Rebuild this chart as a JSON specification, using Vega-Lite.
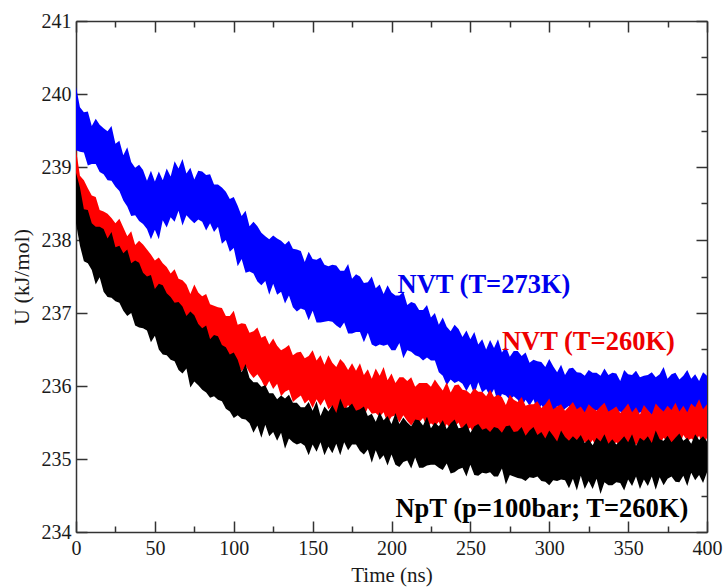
{
  "$schema": "https://vega.github.io/schema/vega-lite/v6.json",
  "width": 631,
  "height": 511,
  "autosize": "none",
  "padding": {"left": 76, "top": 21, "right": 17, "bottom": 55},
  "background": "white",
  "config": {
    "view": {"stroke": null},
    "font": "Liberation Serif",
    "axis": {
      "grid": false,
      "domainColor": "#333333",
      "domainWidth": 1.5,
      "tickColor": "#333333",
      "tickWidth": 1.5,
      "labelFont": "Liberation Serif",
      "labelFontSize": 20,
      "labelColor": "#1a1a1a",
      "labelFlush": false,
      "labelOverlap": false
    }
  },
  "data": {
    "values": [
      {"t":0,"bh":240.10,"bl":239.23,"rh":239.24,"rl":238.49,"kh":238.92,"kl":238.23},
      {"t":2.5,"bh":239.82,"bl":239.21,"rh":238.88,"rl":238.38,"kh":238.72,"kl":237.92},
      {"t":5,"bh":239.75,"bl":239.20,"rh":238.82,"rl":238.14,"kh":238.42,"kl":237.71},
      {"t":7.5,"bh":239.76,"bl":239.02,"rh":238.71,"rl":238.20,"kh":238.41,"kl":237.68},
      {"t":10,"bh":239.56,"bl":239.04,"rh":238.61,"rl":238.01,"kh":238.23,"kl":237.59},
      {"t":12.5,"bh":239.66,"bl":239.04,"rh":238.59,"rl":237.92,"kh":238.18,"kl":237.39},
      {"t":15,"bh":239.58,"bl":238.93,"rh":238.41,"rl":237.94,"kh":238.18,"kl":237.49},
      {"t":17.5,"bh":239.53,"bl":238.90,"rh":238.39,"rl":237.88,"kh":238.15,"kl":237.29},
      {"t":20,"bh":239.49,"bl":238.82,"rh":238.36,"rl":237.88,"kh":238.02,"kl":237.22},
      {"t":22.5,"bh":239.56,"bl":238.81,"rh":238.30,"rl":237.73,"kh":238.11,"kl":237.21},
      {"t":25,"bh":239.32,"bl":238.73,"rh":238.23,"rl":237.72,"kh":237.90,"kl":237.16},
      {"t":27.5,"bh":239.36,"bl":238.67,"rh":238.29,"rl":237.65,"kh":237.92,"kl":237.14},
      {"t":30,"bh":239.16,"bl":238.54,"rh":238.17,"rl":237.63,"kh":237.82,"kl":237.03},
      {"t":32.5,"bh":239.27,"bl":238.46,"rh":238.05,"rl":237.47,"kh":237.87,"kl":236.96},
      {"t":35,"bh":239.07,"bl":238.33,"rh":238.12,"rl":237.50,"kh":237.68,"kl":237.00},
      {"t":37.5,"bh":238.99,"bl":238.34,"rh":237.93,"rl":237.41,"kh":237.72,"kl":236.83},
      {"t":40,"bh":239.03,"bl":238.26,"rh":237.99,"rl":237.37,"kh":237.69,"kl":236.80},
      {"t":42.5,"bh":238.96,"bl":238.22,"rh":237.94,"rl":237.41,"kh":237.55,"kl":236.79},
      {"t":45,"bh":238.81,"bl":238.15,"rh":237.87,"rl":237.20,"kh":237.50,"kl":236.76},
      {"t":47.5,"bh":238.95,"bl":238.01,"rh":237.80,"rl":237.19,"kh":237.52,"kl":236.60},
      {"t":50,"bh":238.80,"bl":238.14,"rh":237.72,"rl":237.16,"kh":237.33,"kl":236.69},
      {"t":52.5,"bh":238.94,"bl":238.01,"rh":237.76,"rl":237.04,"kh":237.40,"kl":236.50},
      {"t":55,"bh":238.82,"bl":238.27,"rh":237.68,"rl":237.08,"kh":237.38,"kl":236.43},
      {"t":57.5,"bh":238.98,"bl":238.17,"rh":237.63,"rl":237.00,"kh":237.27,"kl":236.42},
      {"t":60,"bh":238.87,"bl":238.31,"rh":237.54,"rl":236.94,"kh":237.22,"kl":236.36},
      {"t":62.5,"bh":239.08,"bl":238.25,"rh":237.60,"rl":236.86,"kh":237.14,"kl":236.34},
      {"t":65,"bh":238.98,"bl":238.40,"rh":237.47,"rl":236.89,"kh":237.15,"kl":236.22},
      {"t":67.5,"bh":239.11,"bl":238.20,"rh":237.45,"rl":236.81,"kh":237.09,"kl":236.17},
      {"t":70,"bh":238.91,"bl":238.34,"rh":237.39,"rl":236.67,"kh":236.96,"kl":236.24},
      {"t":72.5,"bh":238.99,"bl":238.28,"rh":237.26,"rl":236.79,"kh":237.02,"kl":235.98},
      {"t":75,"bh":238.83,"bl":238.23,"rh":237.39,"rl":236.69,"kh":236.97,"kl":236.06},
      {"t":77.5,"bh":238.95,"bl":238.28,"rh":237.28,"rl":236.64,"kh":236.85,"kl":236.01},
      {"t":80,"bh":238.94,"bl":238.25,"rh":237.23,"rl":236.69,"kh":236.79,"kl":235.95},
      {"t":82.5,"bh":238.89,"bl":238.13,"rh":237.26,"rl":236.60,"kh":236.83,"kl":235.91},
      {"t":85,"bh":238.90,"bl":238.23,"rh":237.12,"rl":236.48,"kh":236.64,"kl":235.84},
      {"t":87.5,"bh":238.76,"bl":238.11,"rh":237.10,"rl":236.56,"kh":236.70,"kl":235.86},
      {"t":90,"bh":238.76,"bl":238.18,"rh":237.08,"rl":236.46,"kh":236.68,"kl":235.81},
      {"t":92.5,"bh":238.72,"bl":237.95,"rh":237.07,"rl":236.52,"kh":236.56,"kl":235.79},
      {"t":95,"bh":238.66,"bl":238.00,"rh":236.96,"rl":236.37,"kh":236.53,"kl":235.69},
      {"t":97.5,"bh":238.56,"bl":237.84,"rh":236.96,"rl":236.40,"kh":236.43,"kl":235.65},
      {"t":100,"bh":238.59,"bl":237.89,"rh":237.03,"rl":236.39,"kh":236.46,"kl":235.56},
      {"t":102.5,"bh":238.47,"bl":237.64,"rh":236.84,"rl":236.30,"kh":236.36,"kl":235.60},
      {"t":105,"bh":238.33,"bl":237.74,"rh":236.86,"rl":236.20,"kh":236.19,"kl":235.55},
      {"t":107.5,"bh":238.40,"bl":237.55,"rh":236.85,"rl":236.28,"kh":236.30,"kl":235.54},
      {"t":110,"bh":238.19,"bl":237.57,"rh":236.73,"rl":236.18,"kh":236.11,"kl":235.49},
      {"t":112.5,"bh":238.25,"bl":237.54,"rh":236.75,"rl":236.11,"kh":236.05,"kl":235.36},
      {"t":115,"bh":238.19,"bl":237.43,"rh":236.80,"rl":236.16,"kh":236.05,"kl":235.46},
      {"t":117.5,"bh":238.10,"bl":237.38,"rh":236.66,"rl":236.08,"kh":235.99,"kl":235.29},
      {"t":120,"bh":238.05,"bl":237.44,"rh":236.69,"rl":235.97,"kh":236.01,"kl":235.47},
      {"t":122.5,"bh":238.01,"bl":237.25,"rh":236.57,"rl":236.07,"kh":235.90,"kl":235.31},
      {"t":125,"bh":238.06,"bl":237.40,"rh":236.65,"rl":235.96,"kh":235.90,"kl":235.37},
      {"t":127.5,"bh":238.02,"bl":237.25,"rh":236.55,"rl":236.03,"kh":235.82,"kl":235.25},
      {"t":130,"bh":237.99,"bl":237.29,"rh":236.49,"rl":235.86,"kh":235.87,"kl":235.36},
      {"t":132.5,"bh":237.94,"bl":237.13,"rh":236.52,"rl":235.92,"kh":235.83,"kl":235.14},
      {"t":135,"bh":237.99,"bl":237.24,"rh":236.56,"rl":235.95,"kh":235.88,"kl":235.28},
      {"t":137.5,"bh":237.88,"bl":237.08,"rh":236.42,"rl":235.78,"kh":235.77,"kl":235.23},
      {"t":140,"bh":237.87,"bl":237.02,"rh":236.46,"rl":235.83,"kh":235.77,"kl":235.20},
      {"t":142.5,"bh":237.85,"bl":237.06,"rh":236.47,"rl":235.87,"kh":235.71,"kl":235.22},
      {"t":145,"bh":237.70,"bl":237.04,"rh":236.38,"rl":235.76,"kh":235.71,"kl":235.18},
      {"t":147.5,"bh":237.84,"bl":236.90,"rh":236.41,"rl":235.81,"kh":235.78,"kl":235.05},
      {"t":150,"bh":237.74,"bl":237.03,"rh":236.49,"rl":235.70,"kh":235.66,"kl":235.20},
      {"t":152.5,"bh":237.73,"bl":236.87,"rh":236.35,"rl":235.82,"kh":235.79,"kl":235.10},
      {"t":155,"bh":237.76,"bl":236.87,"rh":236.42,"rl":235.73,"kh":235.59,"kl":235.23},
      {"t":157.5,"bh":237.66,"bl":236.88,"rh":236.29,"rl":235.82,"kh":235.72,"kl":235.05},
      {"t":160,"bh":237.64,"bl":236.89,"rh":236.42,"rl":235.68,"kh":235.65,"kl":235.17},
      {"t":162.5,"bh":237.66,"bl":236.88,"rh":236.32,"rl":235.73,"kh":235.74,"kl":235.08},
      {"t":165,"bh":237.65,"bl":236.83,"rh":236.26,"rl":235.60,"kh":235.63,"kl":235.21},
      {"t":167.5,"bh":237.58,"bl":236.79,"rh":236.37,"rl":235.74,"kh":235.83,"kl":235.05},
      {"t":170,"bh":237.58,"bl":236.87,"rh":236.31,"rl":235.65,"kh":235.70,"kl":235.23},
      {"t":172.5,"bh":237.67,"bl":236.72,"rh":236.22,"rl":235.74,"kh":235.71,"kl":235.12},
      {"t":175,"bh":237.47,"bl":236.72,"rh":236.31,"rl":235.65,"kh":235.76,"kl":235.20},
      {"t":177.5,"bh":237.53,"bl":236.74,"rh":236.21,"rl":235.61,"kh":235.66,"kl":235.20},
      {"t":180,"bh":237.50,"bl":236.74,"rh":236.31,"rl":235.67,"kh":235.68,"kl":235.11},
      {"t":182.5,"bh":237.41,"bl":236.60,"rh":236.15,"rl":235.58,"kh":235.72,"kl":235.06},
      {"t":185,"bh":237.42,"bl":236.73,"rh":236.23,"rl":235.70,"kh":235.59,"kl":235.13},
      {"t":187.5,"bh":237.50,"bl":236.57,"rh":236.10,"rl":235.62,"kh":235.62,"kl":234.95},
      {"t":190,"bh":237.34,"bl":236.54,"rh":236.24,"rl":235.63,"kh":235.51,"kl":235.12},
      {"t":192.5,"bh":237.39,"bl":236.57,"rh":236.14,"rl":235.58,"kh":235.64,"kl":234.99},
      {"t":195,"bh":237.26,"bl":236.55,"rh":236.26,"rl":235.64,"kh":235.53,"kl":235.05},
      {"t":197.5,"bh":237.38,"bl":236.57,"rh":236.08,"rl":235.49,"kh":235.59,"kl":234.91},
      {"t":200,"bh":237.28,"bl":236.49,"rh":236.17,"rl":235.58,"kh":235.48,"kl":235.06},
      {"t":202.5,"bh":237.24,"bl":236.49,"rh":236.04,"rl":235.60,"kh":235.63,"kl":234.92},
      {"t":205,"bh":237.24,"bl":236.59,"rh":236.12,"rl":235.50,"kh":235.48,"kl":234.89},
      {"t":207.5,"bh":237.29,"bl":236.38,"rh":236.12,"rl":235.60,"kh":235.57,"kl":234.96},
      {"t":210,"bh":237.11,"bl":236.49,"rh":236.07,"rl":235.52,"kh":235.50,"kl":234.98},
      {"t":212.5,"bh":237.15,"bl":236.47,"rh":236.12,"rl":235.46,"kh":235.45,"kl":234.87},
      {"t":215,"bh":237.13,"bl":236.42,"rh":235.99,"rl":235.53,"kh":235.54,"kl":235.02},
      {"t":217.5,"bh":237.04,"bl":236.40,"rh":236.04,"rl":235.50,"kh":235.53,"kl":234.88},
      {"t":220,"bh":237.04,"bl":236.35,"rh":236.04,"rl":235.56,"kh":235.46,"kl":234.88},
      {"t":222.5,"bh":237.11,"bl":236.39,"rh":236.04,"rl":235.43,"kh":235.58,"kl":234.91},
      {"t":225,"bh":236.94,"bl":236.35,"rh":235.99,"rl":235.49,"kh":235.42,"kl":234.92},
      {"t":227.5,"bh":237.00,"bl":236.35,"rh":236.09,"rl":235.45,"kh":235.50,"kl":234.92},
      {"t":230,"bh":236.84,"bl":236.19,"rh":236.01,"rl":235.51,"kh":235.45,"kl":234.88},
      {"t":232.5,"bh":236.94,"bl":236.14,"rh":235.94,"rl":235.37,"kh":235.53,"kl":234.85},
      {"t":235,"bh":236.81,"bl":236.01,"rh":236.05,"rl":235.48,"kh":235.41,"kl":234.94},
      {"t":237.5,"bh":236.75,"bl":236.09,"rh":235.91,"rl":235.41,"kh":235.49,"kl":234.80},
      {"t":240,"bh":236.84,"bl":236.04,"rh":236.01,"rl":235.44,"kh":235.54,"kl":234.82},
      {"t":242.5,"bh":236.78,"bl":236.07,"rh":236.02,"rl":235.50,"kh":235.42,"kl":234.86},
      {"t":245,"bh":236.67,"bl":236.03,"rh":235.95,"rl":235.37,"kh":235.43,"kl":234.88},
      {"t":247.5,"bh":236.76,"bl":235.93,"rh":235.94,"rl":235.39,"kh":235.49,"kl":234.76},
      {"t":250,"bh":236.64,"bl":236.03,"rh":235.89,"rl":235.43,"kh":235.36,"kl":234.92},
      {"t":252.5,"bh":236.74,"bl":235.88,"rh":235.97,"rl":235.32,"kh":235.45,"kl":234.78},
      {"t":255,"bh":236.57,"bl":236.05,"rh":235.92,"rl":235.44,"kh":235.48,"kl":234.77},
      {"t":257.5,"bh":236.64,"bl":235.91,"rh":235.92,"rl":235.37,"kh":235.40,"kl":234.81},
      {"t":260,"bh":236.50,"bl":235.96,"rh":235.86,"rl":235.38,"kh":235.42,"kl":234.80},
      {"t":262.5,"bh":236.63,"bl":235.86,"rh":235.95,"rl":235.30,"kh":235.37,"kl":234.82},
      {"t":265,"bh":236.52,"bl":235.96,"rh":235.85,"rl":235.39,"kh":235.44,"kl":234.76},
      {"t":267.5,"bh":236.64,"bl":235.76,"rh":235.88,"rl":235.31,"kh":235.42,"kl":234.76},
      {"t":270,"bh":236.46,"bl":235.89,"rh":235.85,"rl":235.23,"kh":235.36,"kl":234.87},
      {"t":272.5,"bh":236.54,"bl":235.87,"rh":235.74,"rl":235.35,"kh":235.45,"kl":234.65},
      {"t":275,"bh":236.40,"bl":235.81,"rh":235.88,"rl":235.31,"kh":235.46,"kl":234.78},
      {"t":277.5,"bh":236.48,"bl":235.86,"rh":235.81,"rl":235.25,"kh":235.37,"kl":234.76},
      {"t":280,"bh":236.48,"bl":235.81,"rh":235.78,"rl":235.36,"kh":235.38,"kl":234.74},
      {"t":282.5,"bh":236.41,"bl":235.71,"rh":235.85,"rl":235.27,"kh":235.44,"kl":234.73},
      {"t":285,"bh":236.46,"bl":235.81,"rh":235.73,"rl":235.22,"kh":235.32,"kl":234.70},
      {"t":287.5,"bh":236.32,"bl":235.73,"rh":235.75,"rl":235.30,"kh":235.39,"kl":234.75},
      {"t":290,"bh":236.36,"bl":235.82,"rh":235.75,"rl":235.26,"kh":235.44,"kl":234.74},
      {"t":292.5,"bh":236.34,"bl":235.65,"rh":235.79,"rl":235.32,"kh":235.33,"kl":234.76},
      {"t":295,"bh":236.33,"bl":235.74,"rh":235.70,"rl":235.22,"kh":235.37,"kl":234.70},
      {"t":297.5,"bh":236.26,"bl":235.66,"rh":235.75,"rl":235.25,"kh":235.28,"kl":234.69},
      {"t":300,"bh":236.37,"bl":235.75,"rh":235.83,"rl":235.29,"kh":235.39,"kl":234.64},
      {"t":302.5,"bh":236.27,"bl":235.59,"rh":235.68,"rl":235.21,"kh":235.32,"kl":234.71},
      {"t":305,"bh":236.19,"bl":235.73,"rh":235.72,"rl":235.17,"kh":235.24,"kl":234.70},
      {"t":307.5,"bh":236.29,"bl":235.63,"rh":235.75,"rl":235.27,"kh":235.39,"kl":234.72},
      {"t":310,"bh":236.15,"bl":235.69,"rh":235.66,"rl":235.25,"kh":235.30,"kl":234.71},
      {"t":312.5,"bh":236.24,"bl":235.73,"rh":235.72,"rl":235.18,"kh":235.25,"kl":234.60},
      {"t":315,"bh":236.25,"bl":235.63,"rh":235.78,"rl":235.29,"kh":235.31,"kl":234.73},
      {"t":317.5,"bh":236.19,"bl":235.63,"rh":235.68,"rl":235.20,"kh":235.26,"kl":234.57},
      {"t":320,"bh":236.18,"bl":235.69,"rh":235.72,"rl":235.14,"kh":235.33,"kl":234.77},
      {"t":322.5,"bh":236.14,"bl":235.56,"rh":235.64,"rl":235.24,"kh":235.22,"kl":234.59},
      {"t":325,"bh":236.22,"bl":235.71,"rh":235.75,"rl":235.18,"kh":235.27,"kl":234.70},
      {"t":327.5,"bh":236.18,"bl":235.63,"rh":235.70,"rl":235.26,"kh":235.19,"kl":234.59},
      {"t":330,"bh":236.18,"bl":235.67,"rh":235.66,"rl":235.15,"kh":235.29,"kl":234.73},
      {"t":332.5,"bh":236.14,"bl":235.57,"rh":235.72,"rl":235.20,"kh":235.24,"kl":234.52},
      {"t":335,"bh":236.24,"bl":235.70,"rh":235.77,"rl":235.27,"kh":235.34,"kl":234.68},
      {"t":337.5,"bh":236.15,"bl":235.60,"rh":235.65,"rl":235.11,"kh":235.21,"kl":234.64},
      {"t":340,"bh":236.18,"bl":235.55,"rh":235.68,"rl":235.19,"kh":235.27,"kl":234.64},
      {"t":342.5,"bh":236.17,"bl":235.65,"rh":235.72,"rl":235.23,"kh":235.20,"kl":234.68},
      {"t":345,"bh":236.07,"bl":235.65,"rh":235.63,"rl":235.16,"kh":235.25,"kl":234.67},
      {"t":347.5,"bh":236.22,"bl":235.57,"rh":235.69,"rl":235.21,"kh":235.31,"kl":234.57},
      {"t":350,"bh":236.16,"bl":235.71,"rh":235.76,"rl":235.14,"kh":235.23,"kl":234.72},
      {"t":352.5,"bh":236.15,"bl":235.60,"rh":235.64,"rl":235.25,"kh":235.34,"kl":234.63},
      {"t":355,"bh":236.21,"bl":235.57,"rh":235.71,"rl":235.19,"kh":235.18,"kl":234.76},
      {"t":357.5,"bh":236.12,"bl":235.64,"rh":235.61,"rl":235.27,"kh":235.29,"kl":234.59},
      {"t":360,"bh":236.14,"bl":235.63,"rh":235.74,"rl":235.16,"kh":235.25,"kl":234.72},
      {"t":362.5,"bh":236.15,"bl":235.66,"rh":235.67,"rl":235.22,"kh":235.31,"kl":234.63},
      {"t":365,"bh":236.19,"bl":235.60,"rh":235.61,"rl":235.12,"kh":235.22,"kl":234.76},
      {"t":367.5,"bh":236.12,"bl":235.60,"rh":235.76,"rl":235.26,"kh":235.39,"kl":234.58},
      {"t":370,"bh":236.16,"bl":235.68,"rh":235.70,"rl":235.20,"kh":235.27,"kl":234.75},
      {"t":372.5,"bh":236.26,"bl":235.57,"rh":235.65,"rl":235.29,"kh":235.25,"kl":234.64},
      {"t":375,"bh":236.10,"bl":235.57,"rh":235.73,"rl":235.23,"kh":235.32,"kl":234.73},
      {"t":377.5,"bh":236.16,"bl":235.64,"rh":235.67,"rl":235.19,"kh":235.23,"kl":234.76},
      {"t":380,"bh":236.18,"bl":235.64,"rh":235.77,"rl":235.27,"kh":235.29,"kl":234.69},
      {"t":382.5,"bh":236.09,"bl":235.56,"rh":235.65,"rl":235.18,"kh":235.35,"kl":234.68},
      {"t":385,"bh":236.14,"bl":235.69,"rh":235.73,"rl":235.33,"kh":235.25,"kl":234.77},
      {"t":387.5,"bh":236.22,"bl":235.58,"rh":235.64,"rl":235.25,"kh":235.29,"kl":234.63},
      {"t":390,"bh":236.10,"bl":235.55,"rh":235.76,"rl":235.28,"kh":235.21,"kl":234.81},
      {"t":392.5,"bh":236.16,"bl":235.62,"rh":235.71,"rl":235.24,"kh":235.34,"kl":234.71},
      {"t":395,"bh":236.07,"bl":235.60,"rh":235.82,"rl":235.32,"kh":235.26,"kl":234.78},
      {"t":397.5,"bh":236.19,"bl":235.66,"rh":235.68,"rl":235.18,"kh":235.31,"kl":234.67},
      {"t":400,"bh":236.14,"bl":235.56,"rh":235.75,"rl":235.29,"kh":235.24,"kl":234.82}
    ]
  },
  "layer": [
    {
      "mark": {"type": "area", "color": "#0000ff", "opacity": 1},
      "encoding": {
        "x": {
          "field": "t", "type": "quantitative",
          "scale": {"domain": [0, 400], "nice": false},
          "axis": {
            "orient": "bottom",
            "values": [0,25,50,75,100,125,150,175,200,225,250,275,300,325,350,375,400],
            "tickSize": {"condition": {"test": "datum.value % 50 === 0", "value": -11}, "value": -6},
            "format": "d",
            "labelExpr": "datum.value % 50 === 0 ? datum.label : ''",
            "labelPadding": 17.5,
            "title": "Time (ns)",
            "titleFont": "Liberation Serif",
            "titleFontSize": 21,
            "titleFontWeight": "normal",
            "titleColor": "#1a1a1a",
            "titlePadding": 1
          }
        },
        "y": {
          "field": "bl", "type": "quantitative",
          "scale": {"domain": [234, 241], "nice": false, "zero": false},
          "axis": {
            "orient": "left",
            "values": [234,234.5,235,235.5,236,236.5,237,237.5,238,238.5,239,239.5,240,240.5,241],
            "tickSize": {"condition": {"test": "datum.value % 1 === 0", "value": -11}, "value": -6},
            "format": "d",
            "labelExpr": "datum.value % 1 === 0 ? datum.label : ''",
            "labelPadding": 16,
            "title": "U (kJ/mol)",
            "titleFont": "Liberation Serif",
            "titleFontSize": 22,
            "titleFontWeight": "normal",
            "titleColor": "#1a1a1a",
            "titlePadding": 8
          }
        },
        "y2": {"field": "bh"}
      }
    },
    {
      "mark": {"type": "area", "color": "#ff0000", "opacity": 1},
      "encoding": {
        "x": {
          "field": "t", "type": "quantitative",
          "axis": {
            "orient": "top",
            "values": [0,25,50,75,100,125,150,175,200,225,250,275,300,325,350,375,400],
            "tickSize": {"condition": {"test": "datum.value % 50 === 0", "value": -11}, "value": -6},
            "labels": false,
            "title": null
          }
        },
        "y": {
          "field": "rl", "type": "quantitative",
          "axis": {
            "orient": "right",
            "values": [234,234.5,235,235.5,236,236.5,237,237.5,238,238.5,239,239.5,240,240.5,241],
            "tickSize": {"condition": {"test": "datum.value % 1 === 0", "value": -11}, "value": -6},
            "labels": false,
            "title": null
          }
        },
        "y2": {"field": "rh"}
      }
    },
    {
      "mark": {"type": "area", "color": "#000000", "opacity": 1},
      "encoding": {
        "x": {"field": "t", "type": "quantitative", "axis": null},
        "y": {"field": "kl", "type": "quantitative", "axis": null},
        "y2": {"field": "kh"}
      }
    },
    {
      "data": {"values": [{"label": "NVT (T=273K)", "t": 258.6, "u": 237.27}]},
      "mark": {"type": "text", "font": "Liberation Serif", "fontSize": 26.5, "fontWeight": "bold", "color": "#0000ee", "align": "center", "baseline": "alphabetic"},
      "encoding": {
        "x": {"field": "t", "type": "quantitative", "axis": null},
        "y": {"field": "u", "type": "quantitative", "axis": null},
        "text": {"field": "label"}
      }
    },
    {
      "data": {"values": [{"label": "NVT (T=260K)", "t": 324.8, "u": 236.49}]},
      "mark": {"type": "text", "font": "Liberation Serif", "fontSize": 26.5, "fontWeight": "bold", "color": "#ee0000", "align": "center", "baseline": "alphabetic"},
      "encoding": {
        "x": {"field": "t", "type": "quantitative", "axis": null},
        "y": {"field": "u", "type": "quantitative", "axis": null},
        "text": {"field": "label"}
      }
    },
    {
      "data": {"values": [{"label": "NpT (p=100bar; T=260K)", "t": 295.3, "u": 234.21}]},
      "mark": {"type": "text", "font": "Liberation Serif", "fontSize": 26.5, "fontWeight": "bold", "color": "#000000", "align": "center", "baseline": "alphabetic"},
      "encoding": {
        "x": {"field": "t", "type": "quantitative", "axis": null},
        "y": {"field": "u", "type": "quantitative", "axis": null},
        "text": {"field": "label"}
      }
    }
  ],
  "resolve": {"axis": {"x": "independent", "y": "independent"}}
}
